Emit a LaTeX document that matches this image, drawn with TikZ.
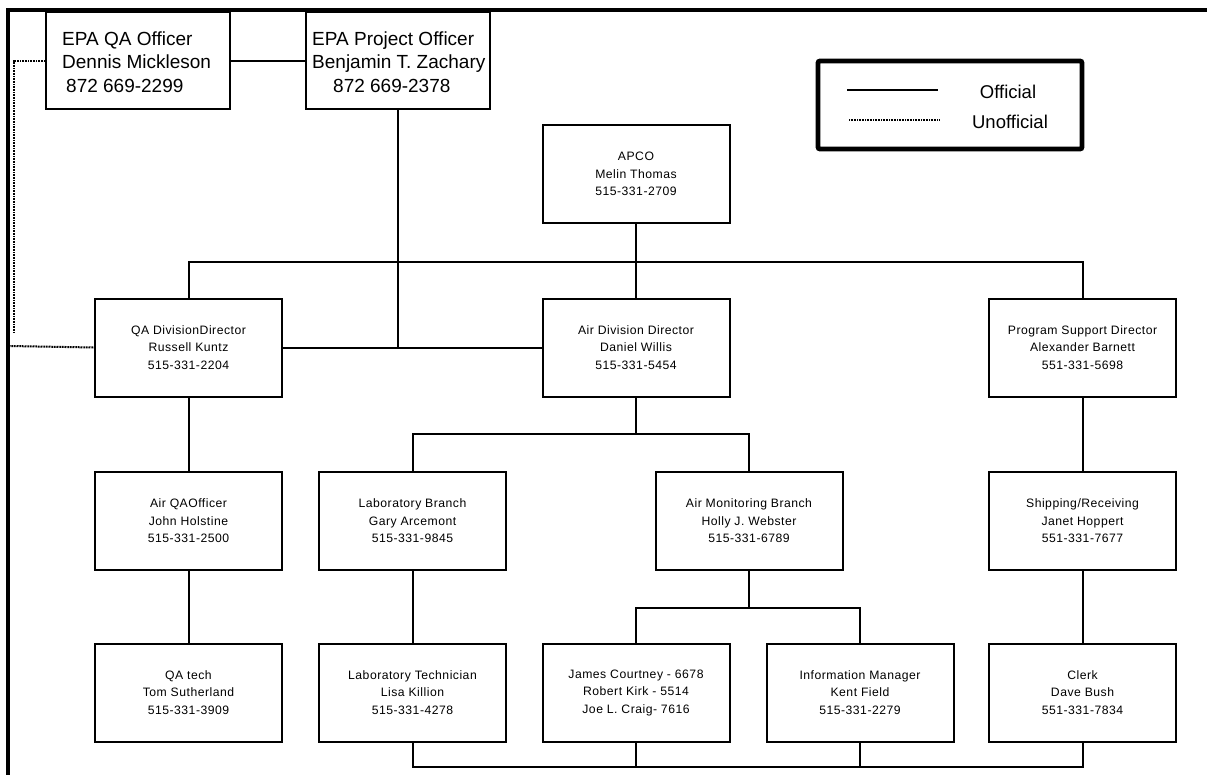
\documentclass[tikz,border=0pt]{standalone}
\usepackage{fontspec}
\setmainfont{Liberation Sans}
\newfontfamily\boxfont[LetterSpace=4]{Liberation Sans}
\usetikzlibrary{calc}
\begin{document}
\begin{tikzpicture}[x=1pt,y=-1pt,
  conn/.style={line width=2pt},
  unoff/.style={line width=2pt, dash pattern=on 1pt off 0.6pt},
  orgbox/.style={draw, line width=2pt, minimum width=187pt, minimum height=98pt, inner sep=0pt,
    font=\boxfont\fontsize{12.2}{17.5}\selectfont, align=center},
  bigbox/.style={draw, line width=2pt, minimum width=184pt, minimum height=97pt, inner sep=0pt},
  bigtext/.style={anchor=west, inner sep=0pt, align=left, font=\fontsize{19}{23.5}\selectfont},
  legtext/.style={inner sep=0pt, font=\fontsize{18.5}{22}\selectfont}]
\useasboundingbox (0,0) rectangle (1207,774);

% frame
\coordinate (frBL) at (8,776);
\coordinate (frTL) at (8,10);
\coordinate (frTR) at (1209,10);
\draw[line width=4.2pt, line join=miter] (frBL) -- (frTL) -- (frTR);

% top boxes
\node[bigbox] (qao) at (138,60.5) {};
\node[bigbox] (epo) at (398,60.5) {};
\node[bigtext] (qaot) at (62,62) {EPA QA Officer\\Dennis Mickleson\\\hspace{4pt}872 669-2299};
\node[bigtext] (epot) at (312,62) {EPA Project Officer\\Benjamin T. Zachary\\\hspace{21pt}872 669-2378};

% legend
\node[draw, line width=4.8pt, rounded corners=2pt, minimum width=264pt, minimum height=88pt] (leg) at (950,105) {};
\coordinate (l1a) at (847,90);
\coordinate (l1b) at (938,90);
\coordinate (l2a) at (849,120);
\coordinate (l2b) at (940,120);
\draw[conn] (l1a) -- (l1b);
\draw[unoff] (l2a) -- (l2b);
\node[legtext] (offt) at (1008,92) {Official};
\node[legtext] (unofft) at (1010,122) {Unofficial};

% org boxes
\node[orgbox] (apco) at (636,174) {APCO\\Melin Thomas\\515-331-2709};
\node[orgbox] (qad) at (188.5,347.5) {QA DivisionDirector\\Russell Kuntz\\515-331-2204};
\node[orgbox] (air) at (636,347.5) {Air Division Director\\Daniel Willis\\515-331-5454};
\node[orgbox] (psd) at (1082.5,347.5) {Program Support Director\\Alexander Barnett\\551-331-5698};
\node[orgbox] (aqo) at (188.5,521) {Air QAOfficer\\John Holstine\\515-331-2500};
\node[orgbox] (lab) at (412.5,521) {Laboratory Branch\\Gary Arcemont\\515-331-9845};
\node[orgbox] (amb) at (749,521) {Air Monitoring Branch\\Holly J. Webster\\515-331-6789};
\node[orgbox] (ship) at (1082.5,521) {Shipping/Receiving\\Janet Hoppert\\551-331-7677};
\node[orgbox] (qat) at (188.5,692.5) {QA tech\\Tom Sutherland\\515-331-3909};
\node[orgbox] (labt) at (412.5,692.5) {Laboratory Technician\\Lisa Killion\\515-331-4278};
\node[orgbox] (jc) at (636,692.5) {James Courtney - 6678\\Robert Kirk - 5514\\Joe L. Craig- 7616};
\node[orgbox] (info) at (860,692.5) {Information Manager\\Kent Field\\515-331-2279};
\node[orgbox] (clerk) at (1082.5,692.5) {Clerk\\Dave Bush\\551-331-7834};

% bus levels
\coordinate (bus1) at (0,262);
\coordinate (bus2) at (0,434);
\coordinate (bus3) at (0,608);
\coordinate (bus4) at (0,767);

% official connectors
\draw[conn] (qao.east) -- (epo.west);
\draw[conn] (epo.south) -- (epo.south |- qad.east);
\draw[conn] (apco.south) -- (air.north);
\draw[conn] (qad.north) -- (qad.north |- bus1) -- (psd.north |- bus1) -- (psd.north);
\draw[conn] (qad.east) -- (air.west);
\draw[conn] (air.south) -- (air.south |- bus2);
\draw[conn] (lab.north) -- (lab.north |- bus2) -- (amb.north |- bus2) -- (amb.north);
\draw[conn] (qad.south) -- (aqo.north);
\draw[conn] (aqo.south) -- (qat.north);
\draw[conn] (psd.south) -- (ship.north);
\draw[conn] (ship.south) -- (clerk.north);
\draw[conn] (lab.south) -- (labt.north);
\draw[conn] (amb.south) -- (amb.south |- bus3);
\draw[conn] (jc.north) -- (jc.north |- bus3) -- (info.north |- bus3) -- (info.north);
\draw[conn] (labt.south) -- (labt.south |- bus4) -- (clerk.south |- bus4) -- (clerk.south);
\draw[conn] (jc.south) -- (jc.south |- bus4);
\draw[conn] (info.south) -- (info.south |- bus4);

% unofficial connectors
\coordinate (dotcorner) at (14,60.5);
\coordinate (dotend) at (14,333);
\coordinate (frameL) at (9,346);
\draw[unoff] (qao.west) -- (dotcorner) -- (dotend);
\draw[unoff] (frameL) -- (qad.west);
\end{tikzpicture}
\end{document}
